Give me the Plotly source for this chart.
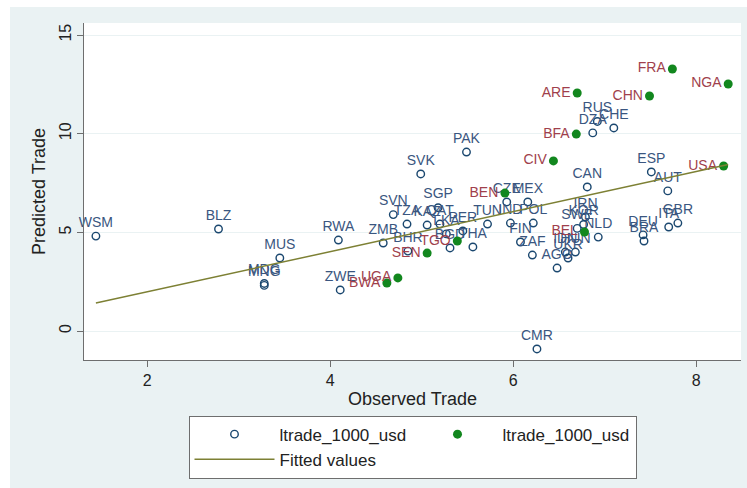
import plotly.graph_objects as go

# Countries shown with hollow markers (labels above the point)
codes_a = ["WSM", "BLZ", "MUS", "MDG", "MNG", "RWA", "ZWE", "ZMB", "BHR", "SVN",
           "SVK", "SGP", "PAK", "TZA", "KAZ", "QAT", "LKA", "PER", "BGD", "THA",
           "TUN", "CZE", "MEX", "IND", "POL", "FIN", "ZAF", "AGO", "IDN", "HUN",
           "UKR", "CAN", "IRN", "KOR", "SWE", "NLD", "RUS", "DZA", "CHE", "ESP",
           "AUT", "DEU", "BRA", "ITA", "GBR", "CMR"]
observed_a = [1.44, 2.78, 3.45, 3.28, 3.28, 4.09, 4.11, 4.58, 4.85, 4.69,
              4.99, 5.18, 5.49, 4.84, 5.06, 5.20, 5.27, 5.45, 5.31, 5.56,
              5.72, 5.93, 6.16, 5.97, 6.22, 6.08, 6.21, 6.48, 6.57, 6.68,
              6.60, 6.81, 6.79, 6.77, 6.70, 6.93, 6.92, 6.87, 7.10, 7.51,
              7.69, 7.42, 7.43, 7.70, 7.80, 6.26]
predicted_a = [4.81, 5.17, 3.70, 2.41, 2.31, 4.61, 2.08, 4.46, 4.05, 5.90,
               7.96, 6.25, 9.07, 5.42, 5.37, 5.42, 4.92, 5.07, 4.21, 4.26,
               5.42, 6.54, 6.54, 5.47, 5.47, 4.51, 3.85, 3.19, 4.00, 4.00,
               3.70, 7.30, 5.78, 5.40, 5.20, 4.76, 10.62, 10.04, 10.29, 8.06,
               7.10, 4.87, 4.56, 5.27, 5.47, -0.91]

# Countries shown with solid markers (labels to the left of the point)
codes_b = ["FRA", "NGA", "ARE", "CHN", "BFA", "CIV", "USA", "BEN", "BEL", "SEN",
           "TGO", "UGA", "BWA"]
observed_b = [7.74, 8.35, 6.70, 7.49, 6.69, 6.44, 8.30, 5.91, 6.78, 5.06,
              5.39, 4.74, 4.62]
predicted_b = [13.28, 12.52, 12.06, 11.91, 9.98, 8.62, 8.36, 6.99, 5.02, 3.95,
               4.56, 2.69, 2.43]

# Linear fit, evaluated at the smallest and largest observed value
fit_x = [1.44, 8.35]
fit_y = [1.42, 8.44]

x_ticks = [2, 4, 6, 8]
y_ticks = [0, 5, 10, 15]

FONT = "Liberation Sans, Arial, Helvetica, sans-serif"
NAVY = "#1a476f"
LABEL_BLUE = "#3a5680"
GREEN = "#12871e"
LABEL_RED = "#a03f4c"
FIT = "#7d8034"
REGION = "#eaf2f3"

fig = go.Figure()

fig.add_trace(go.Scatter(
    x=observed_a, y=predicted_a, text=codes_a,
    mode="markers+text", textposition="top center", cliponaxis=False,
    textfont=dict(family=FONT, size=14, color=LABEL_BLUE),
    marker=dict(symbol="circle-open", size=7.5, color=NAVY, line=dict(width=1.4, color=NAVY)),
    name="ltrade_1000_usd",
))

fig.add_trace(go.Scatter(
    x=observed_b, y=predicted_b, text=codes_b,
    mode="markers+text", textposition="middle left", cliponaxis=False,
    textfont=dict(family=FONT, size=14, color=LABEL_RED),
    marker=dict(symbol="circle", size=9, color=GREEN),
    name="ltrade_1000_usd",
))

fig.add_trace(go.Scatter(
    x=fit_x, y=fit_y, mode="lines",
    line=dict(color=FIT, width=1.5),
    name="Fitted values",
))

fig.update_layout(
    width=747, height=488,
    margin=dict(l=84, r=6, t=23, b=128),
    paper_bgcolor="white",
    plot_bgcolor="white",
    font=dict(family=FONT, size=16, color="#222"),
    showlegend=True,
    legend=dict(
        orientation="h", x=0.5, xanchor="center", y=-0.165, yanchor="top",
        bgcolor="white", bordercolor="#6e6e6e", borderwidth=1,
        font=dict(family=FONT, size=17, color="#222"),
        itemwidth=80, entrywidth=128, traceorder="normal",
    ),
    shapes=[
        # graph region background
        dict(type="rect", xref="paper", yref="paper", x0=-0.1126, x1=1.02,
             y0=-0.40, y1=1.0475, fillcolor=REGION, line=dict(width=0), layer="below"),
        # plot region
        dict(type="rect", xref="paper", yref="paper", x0=0, x1=1, y0=0, y1=1,
             fillcolor="white", line=dict(width=0), layer="below"),
    ],
)

fig.update_xaxes(
    range=[1.31, 8.49], tickvals=x_ticks, ticks="outside", ticklen=6,
    tickcolor="#6e6e6e", showline=True, linecolor="#6e6e6e", linewidth=1,
    showgrid=False, zeroline=False,
    tickfont=dict(family=FONT, size=16, color="#222"),
    title=dict(text="Observed Trade", font=dict(family=FONT, size=18, color="#222"), standoff=4),
)
fig.update_yaxes(
    range=[-1.47, 15.61], tickvals=y_ticks, ticks="outside", ticklen=6,
    tickcolor="#6e6e6e", showline=True, linecolor="#6e6e6e", linewidth=1,
    showgrid=True, gridcolor=REGION, gridwidth=1, zeroline=False,
    tickangle=-90,
    tickfont=dict(family=FONT, size=16, color="#222"),
    title=dict(text="Predicted Trade", font=dict(family=FONT, size=18, color="#222"), standoff=6),
)

fig.write_html("out.html")
